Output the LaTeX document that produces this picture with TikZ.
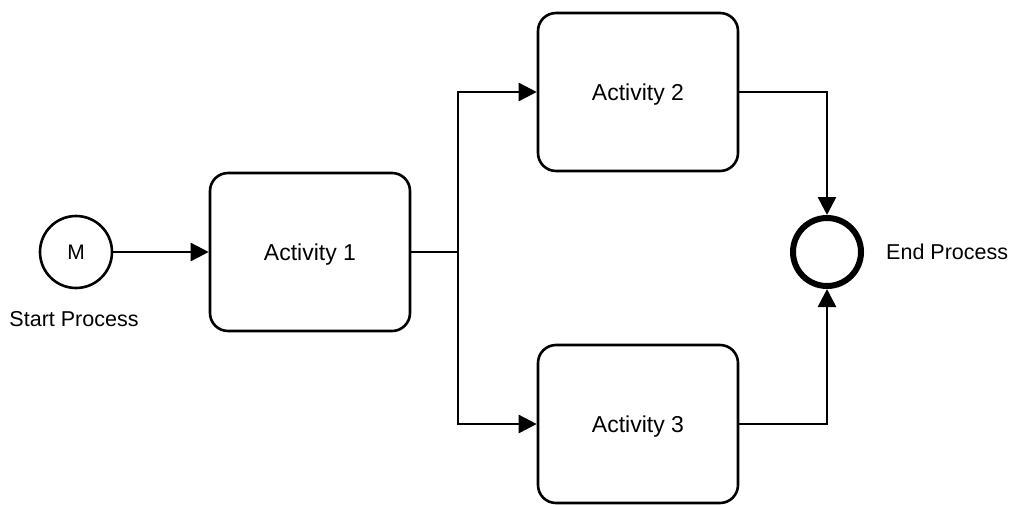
\documentclass[tikz,border=0pt]{standalone}
\usepackage{fontspec}
\setmainfont{Liberation Sans}
\usetikzlibrary{arrows.meta}
\begin{document}
\begin{tikzpicture}[x=1pt,y=-1pt,
  activity/.style={draw,line width=2.6pt,rounded corners=18pt,minimum width=200pt,minimum height=158pt,font=\fontsize{23}{26}\selectfont,inner sep=0pt,text depth=0pt},
  startev/.style={draw,circle,line width=2.6pt,minimum size=72pt,inner sep=0pt,font=\fontsize{21}{24}\selectfont},
  endev/.style={draw,circle,line width=6pt,minimum size=68pt,inner sep=0pt},
  lbl/.style={font=\fontsize{21.5}{24}\selectfont,inner sep=0pt,text depth=0pt},
  flow/.style={line width=2.6pt,-{Triangle[length=18pt,width=18pt]}},
  plain/.style={line width=2.6pt}]
  \useasboundingbox (0,0) rectangle (1014,504);
  % events
  \node[startev] (start) at (76,252) {M};
  \node[lbl] (startlbl) at (74,319) {Start Process};
  \node[endev] (end) at (827,252) {};
  \node[lbl,anchor=west] (endlbl) at (886,252) {End Process};
  % activities
  \node[activity] (a1) at (310,252) {Activity 1};
  \node[activity] (a2) at (638,92) {Activity 2};
  \node[activity] (a3) at (638,424) {Activity 3};
  % split point after Activity 1
  \coordinate (fork) at (458,252);
  % sequence flows
  \draw[flow] (start) -- (a1);
  \draw[plain] (a1.east) -- (fork);
  \draw[flow] (fork) |- (a2.west);
  \draw[flow] (fork) |- (a3.west);
  \draw[flow] (a2.east) -| (end.north);
  \draw[flow] (a3.east) -| (end.south);
\end{tikzpicture}
\end{document}
